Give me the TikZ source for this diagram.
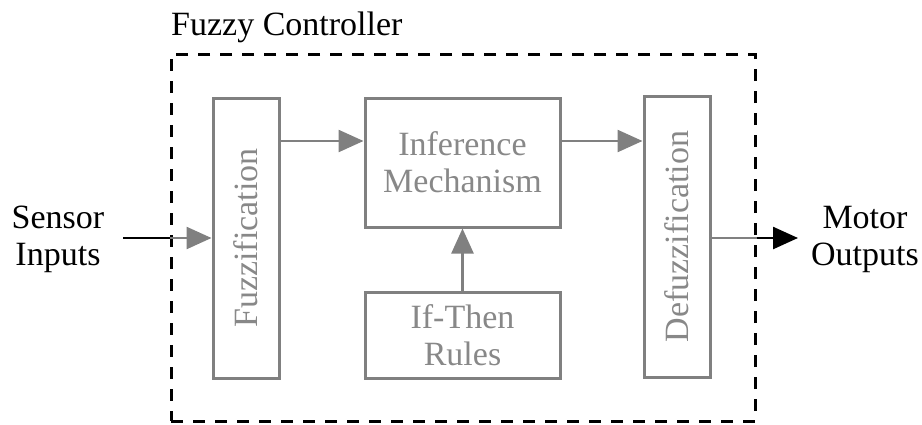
\documentclass[tikz,border=0pt]{standalone}
\usepackage{fontspec}
\setmainfont{Liberation Serif}
\usetikzlibrary{arrows.meta}
\definecolor{boxgray}{RGB}{128,128,128}
\definecolor{txtgray}{RGB}{136,136,136}
\begin{document}
\begin{tikzpicture}[x=1pt,y=-1pt,
  font=\fontsize{34}{37}\selectfont,
  block/.style={draw=boxgray, line width=3pt, text=txtgray, inner sep=0pt, align=center},
  frame/.style={draw=black, line width=3pt, dash pattern=on 12pt off 10pt},
  lbl/.style={align=center, inner sep=0pt, text=black},
  tip/.style={-{Triangle[length=25pt,width=22pt]}},
  flow/.style={draw=boxgray, line width=2.5pt, tip},
  wire/.style={line width=2.5pt}]
\useasboundingbox (0,0) rectangle (922,424);

% controller boundary and its title
\node[frame, minimum width=584pt, minimum height=367pt] (ctrl) at (463,237.5) {};
\node[anchor=base west, inner sep=0pt] (title) at (171,35) {Fuzzy Controller};

% processing blocks
\node[block, minimum width=66pt, minimum height=280pt] (fuzz) at (246,238) {\rotatebox{90}{Fuzzification}};
\node[block, minimum width=195pt, minimum height=129pt] (infer) at (462.5,162.5) {Inference\\Mechanism};
\node[block, minimum width=195pt, minimum height=86pt] (rules) at (462.5,335) {If-Then\\Rules};
\node[block, minimum width=66pt, minimum height=281pt] (defuzz) at (677,236.5) {\rotatebox{90}{Defuzzification}};

% external signals
\node[lbl] (sensor) at (58,239) {Sensor\\Inputs};
\node[lbl] (motor) at (865,239) {Motor\\Outputs};
\coordinate (src) at (123,238);
\coordinate (dst) at (798,238);

% internal data flow
\coordinate (inferIn) at ([yshift=21.5pt]infer.west);
\coordinate (inferOut) at ([yshift=21.5pt]infer.east);
\draw[flow] (fuzz.east |- inferIn) -- (inferIn);
\draw[flow] (inferOut) -- (defuzz.west |- inferOut);
\draw[flow] (rules.north) -- (infer.south);

% input path: black outside, grey inside
\draw[wire, black] (src) -- (ctrl.west |- src);
\draw[flow] (ctrl.west |- src) -- (fuzz.west |- src);

% output path: grey inside, black outside
\draw[wire, boxgray] (defuzz.east |- dst) -- (ctrl.east |- dst);
\draw[wire, black, tip] (ctrl.east |- dst) -- (dst);
\end{tikzpicture}
\end{document}
